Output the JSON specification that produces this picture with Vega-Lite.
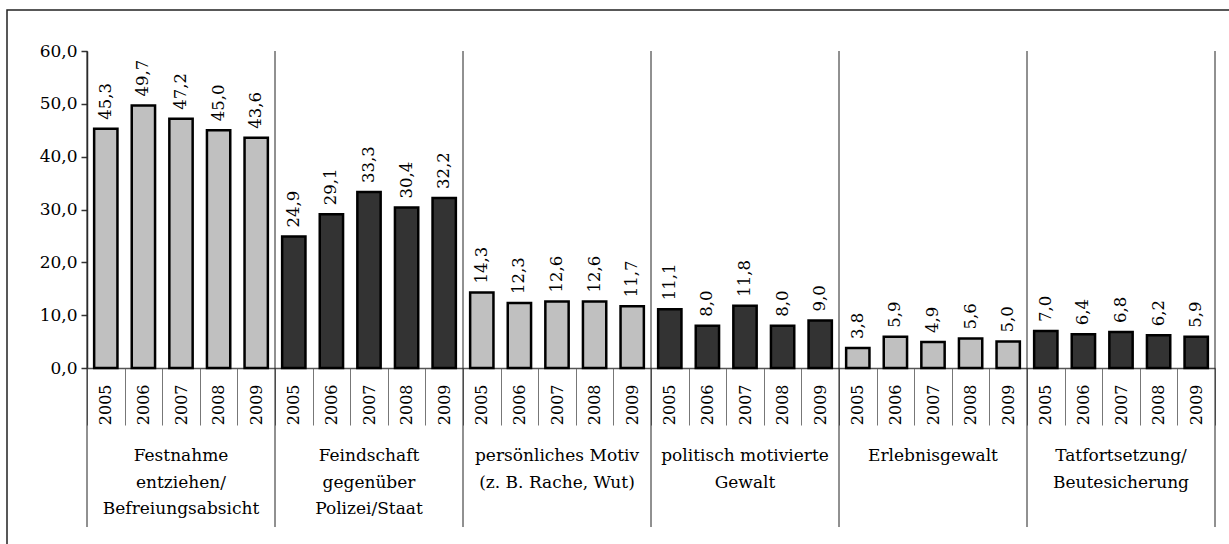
{
  "$schema": "https://vega.github.io/schema/vega-lite/v6.json",
  "autosize": "none",
  "padding": {"left": 7, "top": 10, "right": 0, "bottom": 0},
  "width": 1226,
  "height": 538,
  "background": "white",
  "config": {
    "locale": {"number": {"decimal": ",", "thousands": ".", "grouping": [3], "currency": ["", " €"]}},
    "view": {"stroke": "#222", "strokeWidth": 1.5},
    "font": "DejaVu Serif"
  },
  "datasets": {
    "bars": [
      {"k": "0-2005", "grp": "Festnahme", "year": "2005", "v": 45.3},
      {"k": "0-2006", "grp": "Festnahme", "year": "2006", "v": 49.7},
      {"k": "0-2007", "grp": "Festnahme", "year": "2007", "v": 47.2},
      {"k": "0-2008", "grp": "Festnahme", "year": "2008", "v": 45.0},
      {"k": "0-2009", "grp": "Festnahme", "year": "2009", "v": 43.6},
      {"k": "1-2005", "grp": "Feindschaft", "year": "2005", "v": 24.9},
      {"k": "1-2006", "grp": "Feindschaft", "year": "2006", "v": 29.1},
      {"k": "1-2007", "grp": "Feindschaft", "year": "2007", "v": 33.3},
      {"k": "1-2008", "grp": "Feindschaft", "year": "2008", "v": 30.4},
      {"k": "1-2009", "grp": "Feindschaft", "year": "2009", "v": 32.2},
      {"k": "2-2005", "grp": "persönliches Motiv", "year": "2005", "v": 14.3},
      {"k": "2-2006", "grp": "persönliches Motiv", "year": "2006", "v": 12.3},
      {"k": "2-2007", "grp": "persönliches Motiv", "year": "2007", "v": 12.6},
      {"k": "2-2008", "grp": "persönliches Motiv", "year": "2008", "v": 12.6},
      {"k": "2-2009", "grp": "persönliches Motiv", "year": "2009", "v": 11.7},
      {"k": "3-2005", "grp": "politisch motivierte Gewalt", "year": "2005", "v": 11.1},
      {"k": "3-2006", "grp": "politisch motivierte Gewalt", "year": "2006", "v": 8.0},
      {"k": "3-2007", "grp": "politisch motivierte Gewalt", "year": "2007", "v": 11.8},
      {"k": "3-2008", "grp": "politisch motivierte Gewalt", "year": "2008", "v": 8.0},
      {"k": "3-2009", "grp": "politisch motivierte Gewalt", "year": "2009", "v": 9.0},
      {"k": "4-2005", "grp": "Erlebnisgewalt", "year": "2005", "v": 3.8},
      {"k": "4-2006", "grp": "Erlebnisgewalt", "year": "2006", "v": 5.9},
      {"k": "4-2007", "grp": "Erlebnisgewalt", "year": "2007", "v": 4.9},
      {"k": "4-2008", "grp": "Erlebnisgewalt", "year": "2008", "v": 5.6},
      {"k": "4-2009", "grp": "Erlebnisgewalt", "year": "2009", "v": 5.0},
      {"k": "5-2005", "grp": "Tatfortsetzung", "year": "2005", "v": 7.0},
      {"k": "5-2006", "grp": "Tatfortsetzung", "year": "2006", "v": 6.4},
      {"k": "5-2007", "grp": "Tatfortsetzung", "year": "2007", "v": 6.8},
      {"k": "5-2008", "grp": "Tatfortsetzung", "year": "2008", "v": 6.2},
      {"k": "5-2009", "grp": "Tatfortsetzung", "year": "2009", "v": 5.9}
    ],
    "groups": [
      {"k": "0-2007", "label": ["Festnahme", "entziehen/", "Befreiungsabsicht"]},
      {"k": "1-2007", "label": ["Feindschaft", "gegenüber", "Polizei/Staat"]},
      {"k": "2-2007", "label": ["persönliches Motiv", "(z. B. Rache, Wut)"]},
      {"k": "3-2007", "label": ["politisch motivierte", "Gewalt"]},
      {"k": "4-2007", "label": ["Erlebnisgewalt"]},
      {"k": "5-2007", "label": ["Tatfortsetzung/", "Beutesicherung"]}
    ]
  },
  "data": {"name": "bars"},
  "layer": [
    {
      "mark": {"type": "bar", "width": {"band": 0.62}, "stroke": "#000", "strokeWidth": 2.5},
      "encoding": {
        "x": {
          "field": "k", "type": "nominal", "sort": null,
          "scale": {"type": "band", "range": [80, 1208], "paddingInner": 0, "paddingOuter": 0},
          "axis": {
            "orient": "bottom", "offset": -180, "title": null,
            "domain": true, "domainColor": "#555", "domainWidth": 1.5,
            "ticks": true, "tickBand": "extent", "tickSize": 57, "tickColor": "#777", "tickWidth": 1,
            "labelExpr": "split(datum.value, '-')[1]",
            "labelAngle": -90, "labelFontSize": 16, "labelFont": "DejaVu Serif", "labelColor": "#000",
            "labelPadding": -41, "labelAlign": "right", "labelBaseline": "middle", "grid": false
          }
        },
        "y": {
          "field": "v", "type": "quantitative",
          "scale": {"domain": [0, 60], "range": [358, 41], "nice": false, "zero": false},
          "axis": {
            "orient": "left", "offset": -80, "title": null, "grid": false,
            "values": [0, 10, 20, 30, 40, 50, 60], "format": ".1f",
            "domainColor": "#333", "domainWidth": 1.5,
            "tickSize": 6, "tickColor": "#333", "tickWidth": 1.5,
            "labelFontSize": 17, "labelFont": "DejaVu Serif", "labelColor": "#000", "labelPadding": 4
          }
        },
        "color": {
          "field": "grp", "type": "nominal", "legend": null,
          "scale": {
            "domain": ["Festnahme", "Feindschaft", "persönliches Motiv", "politisch motivierte Gewalt", "Erlebnisgewalt", "Tatfortsetzung"],
            "range": ["#c0c0c0", "#333333", "#c0c0c0", "#333333", "#c0c0c0", "#333333"]
          }
        }
      }
    },
    {
      "mark": {"type": "text", "angle": 270, "align": "left", "baseline": "middle", "dx": 9, "fontSize": 16.5, "color": "#000", "font": "DejaVu Serif"},
      "encoding": {
        "x": {"field": "k", "type": "nominal", "sort": null},
        "y": {"field": "v", "type": "quantitative"},
        "text": {"field": "v", "type": "quantitative", "format": ".1f"}
      }
    },
    {
      "transform": [{"filter": "datum.year == '2005'"}],
      "mark": {"type": "rule", "color": "#222", "strokeWidth": 1},
      "encoding": {
        "x": {"field": "k", "type": "nominal", "sort": null, "bandPosition": 0},
        "y": {"datum": 60},
        "y2": {"datum": -30.1}
      }
    },
    {
      "transform": [{"filter": "datum.k == '5-2009'"}],
      "mark": {"type": "rule", "color": "#222", "strokeWidth": 1},
      "encoding": {
        "x": {"field": "k", "type": "nominal", "sort": null, "bandPosition": 1},
        "y": {"datum": 60},
        "y2": {"datum": -30.1}
      }
    },
    {
      "data": {"name": "groups"},
      "mark": {"type": "text", "align": "center", "baseline": "top", "dy": 80, "lineHeight": 26.5, "fontSize": 17, "color": "#000", "font": "DejaVu Serif"},
      "encoding": {
        "x": {"field": "k", "type": "nominal", "sort": null},
        "y": {"datum": 0},
        "text": {"field": "label"}
      }
    }
  ]
}
